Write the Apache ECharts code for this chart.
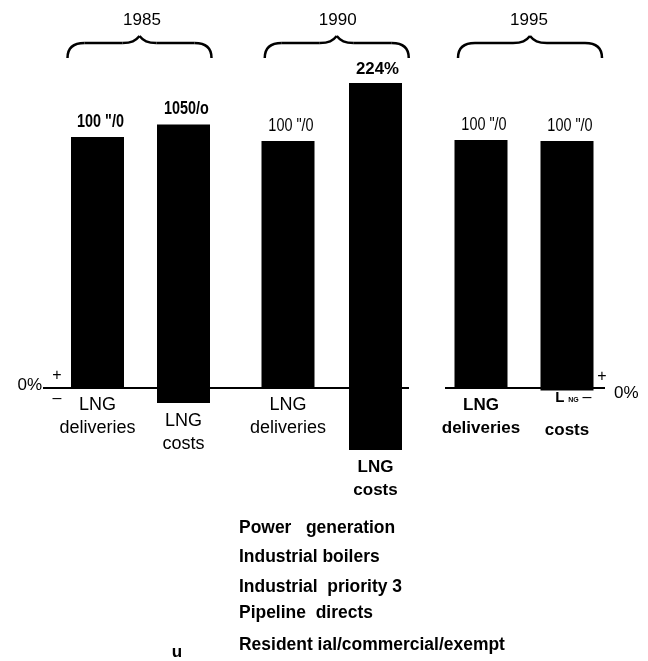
<!DOCTYPE html>
<html><head><meta charset="utf-8">
<script src="https://cdn.jsdelivr.net/npm/echarts@6/dist/echarts.min.js"></script>
<style>html,body{margin:0;padding:0;background:#fff}#c{width:648px;height:661px}</style>
</head><body><div id="c"></div>
<script>
// ---- data ----
const years = ['1985', '1990', '1995'];
const categoryLabels = ['LNG\ndeliveries', 'LNG\ncosts', 'LNG\ndeliveries', 'LNG\ncosts', 'LNG\ndeliveries', 'LNG\ncosts'];
const barTop = [100, 105, 98.4, 121.5, 98.8, 98.4];
const barBottom = [0, -6, 0, -24.7, 0, -1];
const valueLabels = ['100 "/0', '1050/o', '100 "/0', '224%', '100 "/0', '100 "/0'];
const legendLabels = ['Power   generation', 'Industrial boilers', 'Industrial  priority 3', 'Pipeline  directs', 'Resident ial/commercial/exempt'];
const zeroLabel = '0%';

// ---- styling ----
const SANS = "'Liberation Sans', Arial, Helvetica, sans-serif";
const boldValue = {0: true, 1: true, 3: true};
const wideValue = {3: true};
const boldCategory = {3: true, 4: true, 5: true};
const garbledCategory = {5: true};

const gridLayout = [
  {left: 54.5, width: 172},
  {left: 244.25, width: 175},
  {left: 438, width: 172}
];
const gridTop = 61.7, gridHeight = 426.7;

const grids = [], xAxes = [], yAxes = [], series = [];
years.forEach((yr, i) => {
  grids.push({left: gridLayout[i].left, width: gridLayout[i].width, top: gridTop, height: gridHeight});
  xAxes.push({type: 'category', gridIndex: i, data: categoryLabels.slice(2 * i, 2 * i + 2), show: false});
  yAxes.push({type: 'value', gridIndex: i, min: -40, max: 130, show: false, splitLine: {show: false}});
  series.push({
    type: 'bar', xAxisIndex: i, yAxisIndex: i, barWidth: 53, barGap: '-100%',
    itemStyle: {color: '#000'},
    data: barTop.slice(2 * i, 2 * i + 2)
  });
  series.push({
    type: 'bar', xAxisIndex: i, yAxisIndex: i, barWidth: 53, barGap: '-100%',
    itemStyle: {color: '#000'},
    data: barBottom.slice(2 * i, 2 * i + 2).map((v, j) => {
      const g = 2 * i + j;
      const parts = categoryLabels[g].split('\n');
      if (garbledCategory[g]) {
        return {
          value: v,
          label: {
            show: true, position: 'bottom', distance: 0, color: '#000',
            formatter: () => '{L|' + parts[0].charAt(0) + '}{NG|  ' + parts[0].slice(1) + '}\n{c|' + parts[1] + '}',
            rich: {
              L: {fontFamily: SANS, fontSize: 15, fontWeight: 'bold', lineHeight: 14, color: '#000'},
              NG: {fontFamily: SANS, fontSize: 7, fontWeight: 'bold', lineHeight: 14, color: '#000', padding: [5, 0, 0, 0]},
              c: {fontFamily: SANS, fontSize: 17, fontWeight: 'bold', lineHeight: 52, color: '#000'}
            }
          }
        };
      }
      return {
        value: v,
        label: {
          show: true, position: 'bottom', distance: 6, color: '#000',
          formatter: () => categoryLabels[g],
          fontFamily: SANS,
          fontWeight: boldCategory[g] ? 'bold' : 'normal',
          fontSize: boldCategory[g] ? 17 : 18,
          lineHeight: 23
        }
      };
    })
  });
});

const chart = echarts.init(document.getElementById('c'), null, {renderer: 'canvas'});
chart.setOption({
  animation: false,
  backgroundColor: '#fff',
  grid: grids, xAxis: xAxes, yAxis: yAxes, series: series
});

// ---- decorations positioned through the scales ----
const y0 = chart.convertToPixel({yAxisIndex: 0}, 0);
const barX = [];
years.forEach((yr, i) => {
  barX.push(chart.convertToPixel({xAxisIndex: i}, 0));
  barX.push(chart.convertToPixel({xAxisIndex: i}, 1));
});
const centers = years.map((yr, i) => (barX[2 * i] + barX[2 * i + 1]) / 2);
const braceOffset = [-1, 5, 6];
const yearOffset = [1.5, 6, 5];

const txt = (x, y, text, opt, extra) => Object.assign({
  type: 'text', x: x, y: y,
  style: Object.assign({text: text, fill: '#000', fontFamily: SANS, fontSize: 16, align: 'center', verticalAlign: 'middle'}, opt || {})
}, extra || {});

const BS = {stroke: '#000', lineWidth: 2.5, fill: null};
const brace = (x, y) => ({
  type: 'group', x: x, y: y,
  children: [
    {type: 'bezierCurve', shape: {x1: -72, y1: 22, cpx1: -72, cpy1: 12, cpx2: -67, cpy2: 7, x2: -55, y2: 7}, style: BS},
    {type: 'line', shape: {x1: -55, y1: 7, x2: -17, y2: 7}, style: BS},
    {type: 'bezierCurve', shape: {x1: -17, y1: 7, cpx1: -8, cpy1: 7, cpx2: -4, cpy2: 5, x2: 0, y2: 0}, style: BS},
    {type: 'bezierCurve', shape: {x1: 0, y1: 0, cpx1: 4, cpy1: 5, cpx2: 8, cpy2: 7, x2: 17, y2: 7}, style: BS},
    {type: 'line', shape: {x1: 17, y1: 7, x2: 55, y2: 7}, style: BS},
    {type: 'bezierCurve', shape: {x1: 55, y1: 7, cpx1: 67, cpy1: 7, cpx2: 72, cpy2: 12, x2: 72, y2: 22}, style: BS}
  ]
});

const graphics = [];
graphics.push({type: 'line', shape: {x1: 43, y1: y0, x2: 409, y2: y0}, style: {stroke: '#000', lineWidth: 2}});
graphics.push({type: 'line', shape: {x1: 445, y1: y0, x2: 605, y2: y0}, style: {stroke: '#000', lineWidth: 2}});
graphics.push(txt(42, y0 - 3, zeroLabel, {fontSize: 17, align: 'right'}));
graphics.push(txt(57, y0 - 12, '+', {fontSize: 16}));
graphics.push(txt(57, y0 + 11, '\u2013', {fontSize: 16}));
graphics.push(txt(602, y0 - 11, '+', {fontSize: 16}));
graphics.push(txt(587, y0 + 10, '\u2013', {fontSize: 16}));
graphics.push(txt(614, y0 + 5, zeroLabel, {fontSize: 17, align: 'left'}));
years.forEach((yr, i) => {
  graphics.push(txt(centers[i] + yearOffset[i], 20, yr, {fontSize: 17}));
  graphics.push(brace(centers[i] + braceOffset[i], 36));
});
// value labels above bar tops (narrow look)
valueLabels.forEach((t, g) => {
  const top = chart.convertToPixel({yAxisIndex: Math.floor(g / 2)}, barTop[g]);
  if (wideValue[g]) {
    graphics.push(txt(barX[g] + 2, top - 13, t, {fontSize: 16, fontWeight: 'bold'}, {scaleX: 1.05}));
  } else if (boldValue[g]) {
    graphics.push(txt(barX[g] + 3, top - 15, t, {fontSize: 18, fontWeight: 'bold'}, {scaleX: 0.8}));
  } else {
    graphics.push(txt(barX[g] + 3, top - 15, t, {fontSize: 19}, {scaleX: 0.76}));
  }
});
const legendY = [528, 557, 587, 613, 645];
legendLabels.forEach((t, i) => {
  graphics.push(txt(239, legendY[i], t, {fontSize: 18, fontWeight: 'bold', align: 'left'}, {scaleX: 0.97}));
});
graphics.push(txt(177, 652, 'u', {fontSize: 17, fontWeight: 'bold'}));
chart.setOption({graphic: graphics});
</script>
</body></html>
